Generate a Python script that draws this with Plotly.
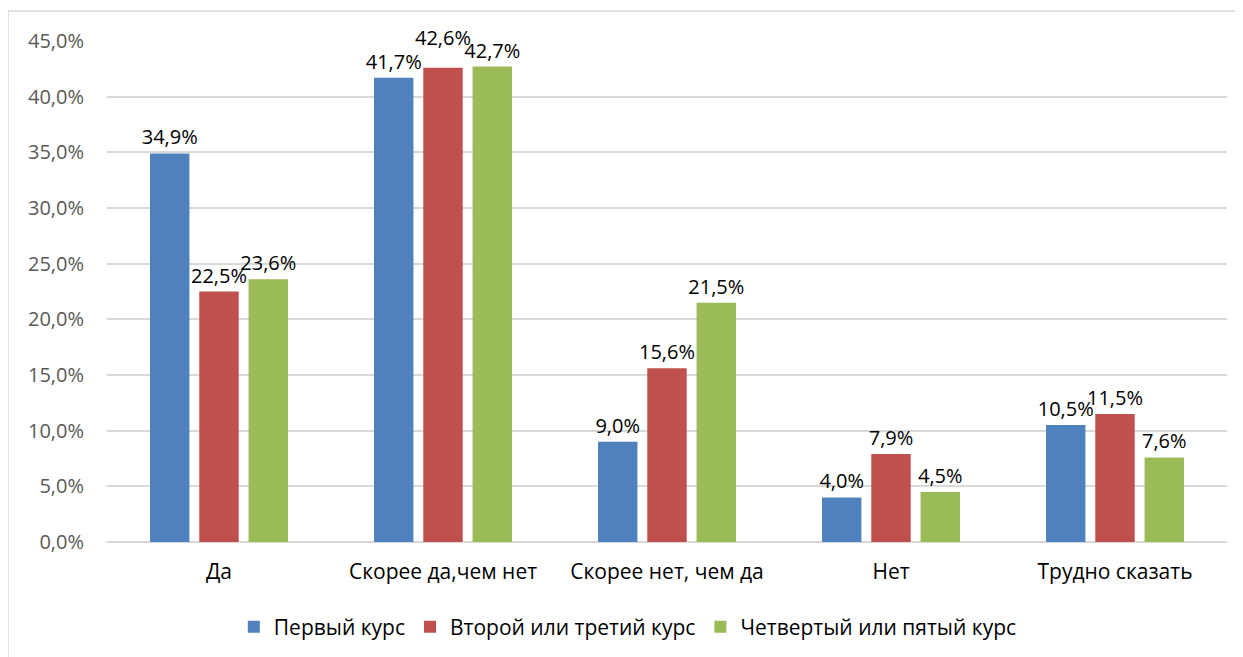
import plotly.graph_objects as go

categories = ["Да", "Скорее да,чем нет", "Скорее нет, чем да", "Нет", "Трудно сказать"]
series_names = ["Первый курс", "Второй или третий курс", "Четвертый или пятый курс"]
first_course = [34.9, 41.7, 9.0, 4.0, 10.5]
second_third = [22.5, 42.6, 15.6, 7.9, 11.5]
fourth_fifth = [23.6, 42.7, 21.5, 4.5, 7.6]
colors = ["#4F81BD", "#C0504D", "#9BBB59"]
y_ticks = [0, 5, 10, 15, 20, 25, 30, 35, 40, 45]
y_tick_labels = ["0,0%", "5,0%", "10,0%", "15,0%", "20,0%", "25,0%", "30,0%", "35,0%", "40,0%", "45,0%"]

FONT = "Open Sans"
LIFTED = (1, "Скорее да,чем нет")  # label moved up to avoid overlap, as in the reference

def fmt(v):
    return f"{v:.1f}".replace(".", ",") + "%"

fig = go.Figure()
annotations = []
for si, (name, vals, col) in enumerate(zip(series_names, [first_course, second_third, fourth_fifth], colors)):
    texts = []
    for c, v in zip(categories, vals):
        if (si, c) == LIFTED:
            texts.append("")
            annotations.append(dict(x=c, y=v, xref="x", yref="y", text=fmt(v), showarrow=False,
                                    yanchor="bottom", yshift=15,
                                    font=dict(family=FONT, size=20, color="#000000")))
        else:
            texts.append(fmt(v))
    fig.add_trace(go.Bar(
        name=name, x=categories, y=vals, marker=dict(color=col, line=dict(width=0)),
        text=texts, textposition="outside", constraintext="none", cliponaxis=False,
        textfont=dict(family=FONT, size=20, color="#000000"),
        hoverinfo="skip",
    ))

fig.update_layout(
    width=1243, height=657,
    margin=dict(l=99, r=24, t=33, b=123),
    paper_bgcolor="white", plot_bgcolor="white",
    barmode="group", bargap=0.34, bargroupgap=0.2,
    font=dict(family=FONT, size=20, color="#000000"),
    showlegend=True,
    legend=dict(orientation="h", x=0.465, xanchor="center", y=-0.17, yanchor="middle",
                font=dict(family=FONT, size=21, color="#000000"), itemwidth=30,
                traceorder="normal"),
    annotations=annotations,
    shapes=[dict(type="rect", xref="paper", yref="paper",
                 x0=-0.0884, x1=1.3, y0=-0.5, y1=1.06,
                 line=dict(color="#D9D9D9", width=1.5), fillcolor="rgba(0,0,0,0)", layer="below")],
)
fig.update_xaxes(showgrid=False, showline=False, ticks="", tickfont=dict(family=FONT, size=21, color="#000000"),
                 ticklabelstandoff=15)
fig.update_yaxes(range=[0, 45], tickvals=y_ticks, ticktext=y_tick_labels, showgrid=True,
                 gridcolor="#D9D9D9", gridwidth=1.5, zeroline=True, zerolinecolor="#D9D9D9", zerolinewidth=1.5,
                 showline=False, ticks="", tickfont=dict(family=FONT, size=20, color="#595959"),
                 ticklabelstandoff=22)

fig.write_html("out.html")
